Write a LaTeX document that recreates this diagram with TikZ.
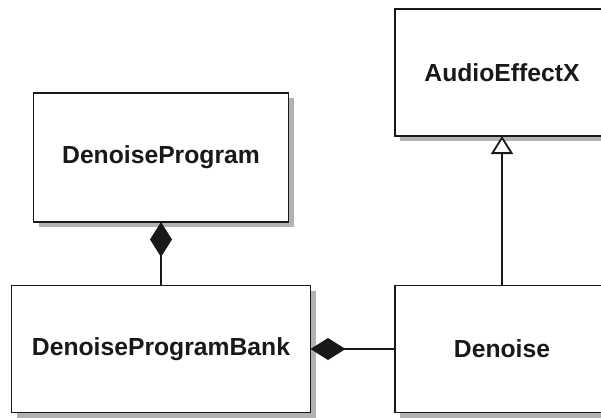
\documentclass[tikz,border=0pt]{standalone}
\usepackage{fontspec}
\setmainfont{Liberation Sans}
\usepackage{tikz}
\usetikzlibrary{positioning, arrows.meta, shadows}
\tikzset{umlclass/.style={draw=black!90, line width=1.6pt, fill=white, rectangle, outer sep=0pt, inner sep=0pt,
    font=\fontsize{24.7}{30}\selectfont\bfseries, text=black!90,
    drop shadow={shadow xshift=5pt, shadow yshift=-5pt, fill=black!30, opacity=1}}}
\tikzset{comp/.style={draw=black!90, line width=1.8pt, -{Diamond[length=35pt, width=22pt]}}}
\tikzset{inherit/.style={draw=black!90, line width=1.8pt, -{Triangle[open, length=18pt, width=22pt, fill=white]}}}

\begin{document}
\begin{tikzpicture}[x=1pt, y=-1pt]
    \useasboundingbox (0,0) rectangle (601,417);
    \node[umlclass, minimum width=255pt, minimum height=129pt] (prog) at (161,157.5) {DenoiseProgram};
    \node[umlclass, minimum width=214pt, minimum height=127pt] (effect) at (502,72.5) {AudioEffectX};
    \node[umlclass, minimum width=299pt, minimum height=127pt] (bank) at (161,349) {DenoiseProgramBank};
    \node[umlclass, minimum width=214pt, minimum height=127pt] (denoise) at (502,349) {Denoise};
    \draw[comp] (bank) -- (prog);
    \draw[comp] (denoise) -- (bank);
    \draw[inherit] (denoise) -- (effect);
\end{tikzpicture}
\end{document}
